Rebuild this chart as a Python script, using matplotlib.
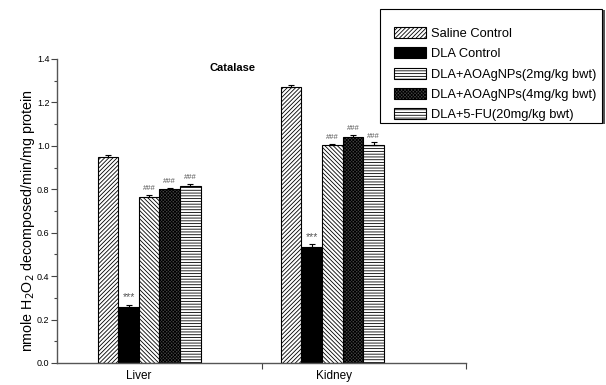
import matplotlib
matplotlib.use("Agg")
import matplotlib.pyplot as plt
from matplotlib.patches import Patch, Rectangle
import numpy as np

plt.rcParams["font.family"] = ["Liberation Sans", "DejaVu Sans"]
plt.rcParams["hatch.linewidth"] = 0.6

# datos
organos = ["Liver", "Kidney"]
grupos = ["Saline Control", "DLA Control", "DLA+AOAgNPs(2mg/kg bwt)",
          "DLA+AOAgNPs(4mg/kg bwt)", "DLA+5-FU(20mg/kg bwt)"]
higado = [0.950, 0.258, 0.765, 0.800, 0.815]
rinon = [1.270, 0.535, 1.005, 1.040, 1.005]
err_higado = [0.010, 0.011, 0.010, 0.006, 0.011]
err_rinon = [0.012, 0.011, 0.005, 0.012, 0.011]
marcas = ["", "***", "###", "###", "###"]

# estilos de cada grupo (barras)
estilos = [
    dict(facecolor="white", hatch="/" * 8),
    dict(facecolor="black", hatch=None),
    dict(facecolor="white", hatch="\\" * 8),
    dict(facecolor="#444444", hatch="x" * 10),
    dict(facecolor="white", hatch="-" * 6),
]
# la leyenda del original no coincide del todo con las barras
estilos_leyenda = [
    dict(facecolor="white", hatch="/" * 8),
    dict(facecolor="black", hatch=None),
    dict(facecolor="white", hatch="-" * 6),
    dict(facecolor="#444444", hatch="x" * 10),
    dict(facecolor="white", hatch="-" * 6),
]

fig = plt.figure(figsize=(6.06, 3.85), dpi=100)
ax = fig.add_axes([57 / 606, 22 / 385, 409 / 606, 304 / 385])

ancho = 0.1007
inicio = [0.249, 1.145]
valores = [higado, rinon]
errores = [err_higado, err_rinon]
for g in range(2):
    for i in range(5):
        x = inicio[g] + i * ancho
        ax.bar(x, valores[g][i], width=ancho, edgecolor="black",
               linewidth=0.8, **estilos[i])
        ax.errorbar(x, valores[g][i], yerr=[[0], [errores[g][i]]],
                    fmt="none", ecolor="black", elinewidth=0.8,
                    capsize=2.5, capthick=0.8)
        if marcas[i]:
            tam = 7.5 if marcas[i] == "***" else 5.5
            ax.text(x, valores[g][i] + errores[g][i] + 0.012, marcas[i],
                    ha="center", va="bottom", fontsize=tam, color="#555555")

ax.set_xlim(0, 2)
ax.set_ylim(0, 1.4)
ax.set_yticks(np.arange(0, 1.41, 0.2))
ax.set_yticks(np.arange(0.1, 1.4, 0.2), minor=True)
ax.set_yticklabels([f"{v:.1f}" for v in np.arange(0, 1.41, 0.2)])
ax.set_xticks([1.0, 2.0])
ax.set_xticklabels(["", ""])
ax.set_xticks([0.40, 1.355], minor=True)
ax.set_xticklabels(organos, minor=True, fontsize=8.5)
ax.tick_params(axis="x", which="minor", length=0, pad=5)
ax.tick_params(axis="x", which="major", length=4, width=0.8, direction="out",
               colors="#444444")
ax.tick_params(axis="y", which="major", length=4, width=0.8, labelsize=6.5,
               pad=1.5, colors="#444444", labelcolor="black")
ax.tick_params(axis="y", which="minor", length=2, width=0.8, colors="#444444")
for s in ["top", "right"]:
    ax.spines[s].set_visible(False)
for s in ["left", "bottom"]:
    ax.spines[s].set_color("#555555")
    ax.spines[s].set_linewidth(1.0)

ax.set_ylabel("nmole H$_2$O$_2$ decomposed/min/mg protein", fontsize=10.3)
ax.yaxis.set_label_coords(-0.05, 0.467)
ax.text(0.86, 1.36, "Catalase", fontsize=8, fontweight="bold",
        ha="center", va="center")

# marco de la leyenda con sombra
fig.patches.append(Rectangle((382 / 606, 1 - 124 / 385), 223 / 606, 114 / 385,
                             transform=fig.transFigure, facecolor="#555555",
                             edgecolor="none", zorder=5))
fig.patches.append(Rectangle((380 / 606, 1 - 123 / 385), 222 / 606, 114 / 385,
                             transform=fig.transFigure, facecolor="white",
                             edgecolor="black", linewidth=0.8, zorder=6))

manejadores = [Patch(edgecolor="black", linewidth=0.8, label=n, **e)
               for n, e in zip(grupos, estilos_leyenda)]
leg = fig.legend(handles=manejadores, loc="upper left",
                 bbox_to_anchor=(385 / 606, 1 - 18 / 385), frameon=False,
                 fontsize=9.3, handlelength=2.5, handleheight=0.95,
                 handletextpad=0.4, labelspacing=0.56, borderpad=0.2)
leg.set_zorder(7)

fig.savefig("out.png", dpi=100)
